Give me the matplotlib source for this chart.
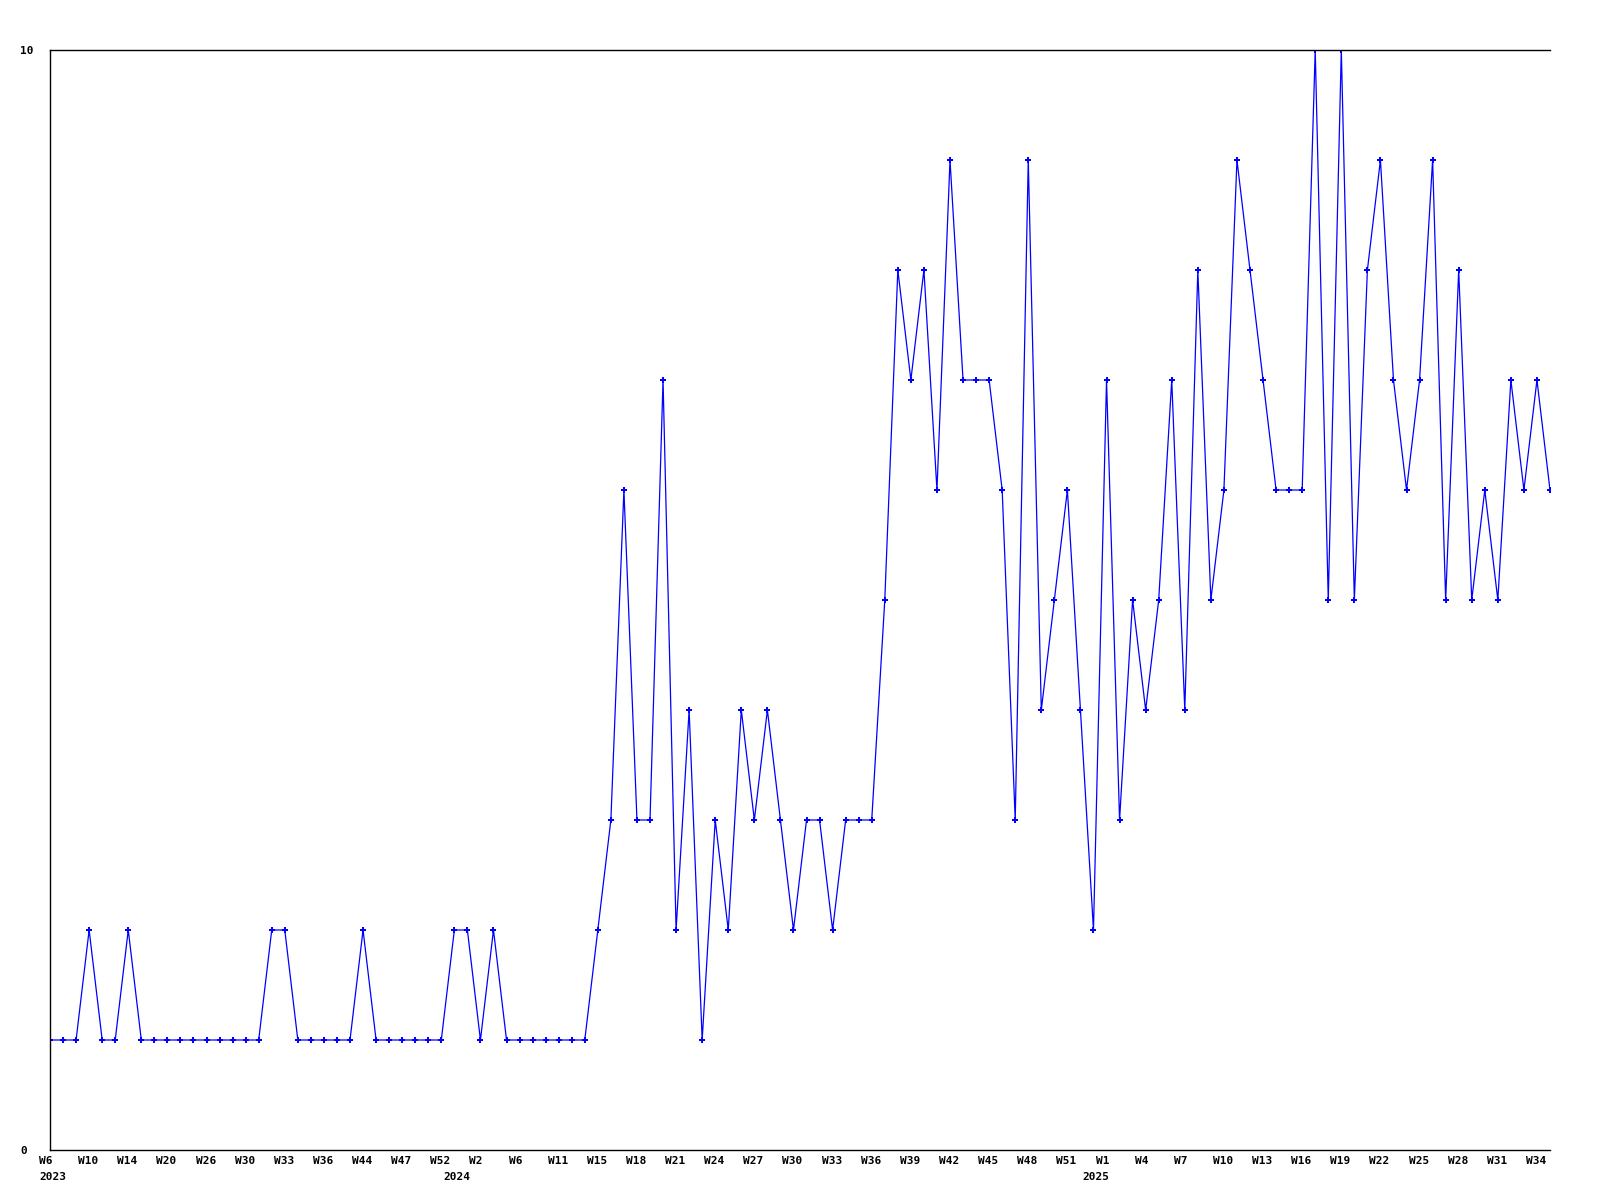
import matplotlib
matplotlib.use('Agg')
import matplotlib.pyplot as plt
import matplotlib.transforms as mtransforms

# weekly counts, one per point
values = [1, 1, 1, 2, 1, 1, 2, 1, 1, 1, 1, 1, 1, 1, 1, 1, 1, 2, 2, 1,
          1, 1, 1, 1, 2, 1, 1, 1, 1, 1, 1, 2, 2, 1, 2, 1, 1, 1, 1, 1,
          1, 1, 2, 3, 6, 3, 3, 7, 2, 4, 1, 3, 2, 4, 3, 4, 3, 2, 3, 3,
          2, 3, 3, 3, 5, 8, 7, 8, 6, 9, 7, 7, 7, 6, 3, 9, 4, 5, 6, 4,
          2, 7, 3, 5, 4, 5, 7, 4, 8, 5, 6, 9, 8, 7, 6, 6, 6, 10, 5, 10,
          5, 8, 9, 7, 6, 7, 9, 5, 8, 5, 6, 5, 7, 6, 7, 6]

# a week label on every third point
week_labels = ['W6', 'W10', 'W14', 'W20', 'W26', 'W30', 'W33', 'W36', 'W44', 'W47',
               'W52', 'W2', 'W6', 'W11', 'W15', 'W18', 'W21', 'W24', 'W27', 'W30',
               'W33', 'W36', 'W39', 'W42', 'W45', 'W48', 'W51', 'W1', 'W4', 'W7',
               'W10', 'W13', 'W16', 'W19', 'W22', 'W25', 'W28', 'W31', 'W34']
year_labels = ['2023', '2024', '2025']
year_starts = [0, 31, 80]

x = list(range(len(values)))
week_pos = x[::3][:len(week_labels)]

fig = plt.figure(figsize=(16, 12), dpi=100)
ax = fig.add_axes([50/1600, 50/1200, 1500/1600, 1100/1200])

ax.plot(x, values, color='#0000ff', linewidth=0.9, marker='P', markersize=4.5,
        markeredgewidth=0)

ax.set_xlim(0, len(values) - 1)
ax.set_ylim(0, 10)

font = dict(family='DejaVu Sans Mono', weight='bold', size=8)

ax.xaxis.remove_overlapping_locs = False
ax.set_xticks(week_pos)
ax.set_xticklabels(week_labels, ha='left', **font)
ax.set_xticks(year_starts, minor=True)
ax.set_xticklabels(year_labels, minor=True, ha='left', **font)
ax.set_yticks([0, 10])
ax.set_yticklabels(['0', '10'], ha='left', **font)

ax.tick_params(axis='x', which='major', length=0, pad=4.5)
ax.tick_params(axis='x', which='minor', length=0, pad=15.5)
ax.tick_params(axis='y', length=0, pad=21.5)

# labels start a little left of their point
shift = mtransforms.ScaledTranslation(-11/100, 0, fig.dpi_scale_trans)
for lab in ax.get_xticklabels() + ax.get_xticklabels(minor=True):
    lab.set_transform(lab.get_transform() + shift)

for side in ['left', 'top', 'bottom']:
    ax.spines[side].set_linewidth(1)
    ax.spines[side].set_color('black')
ax.spines['right'].set_visible(False)

fig.savefig('out.png', dpi=100)
